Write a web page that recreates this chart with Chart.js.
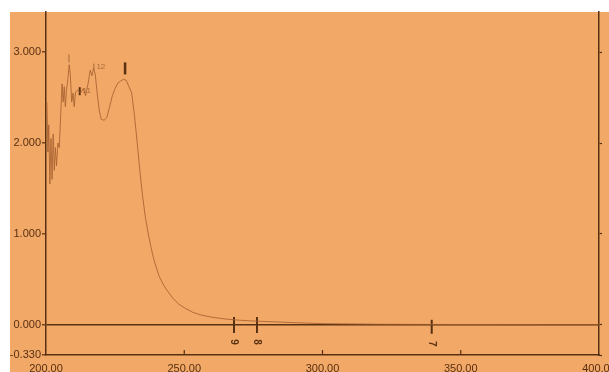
<!DOCTYPE html>
<html lang="en">
<head>
  <meta charset="UTF-8" />
  <title>UV Spectrum</title>
  <script src="https://cdn.jsdelivr.net/npm/chart.js"></script>
  <style>
    body { margin: 0; background: #fff; }
    canvas { display: block; }
  </style>
</head>
<body>
  <canvas id="spectrum" width="609" height="372"></canvas>

  <script>
    // wavelength (nm) and absorbance
    const wavelengths = [200.3, 200.7, 201.0, 201.4, 201.8, 202.2, 202.6, 203.0, 203.4, 203.8,
      204.3, 204.8, 205.3, 205.8, 206.2, 206.6, 207.0, 207.4, 207.9, 208.4,
      208.8, 209.3, 209.8, 210.2, 210.7, 211.5, 212.5, 213.5, 214.3, 215.2,
      216.0, 216.6, 217.2, 217.8, 218.5, 219.3, 220.0, 221.0, 222.0, 223.0,
      224.0, 225.0, 226.0, 227.0, 228.0, 229.0, 230.0, 231.0, 232.0, 233.0,
      234.0, 235.0, 236.0, 237.0, 238.0, 239.0, 240.0, 241.0, 242.5, 244.0,
      246.0, 248.0, 250.0, 253.0, 256.0, 260.0, 265.0, 270.0, 276.0, 282.0,
      290.0, 300.0, 320.0, 350.0, 380.0, 400.0];
    const absorbance = [2.45, 1.90, 2.20, 1.55, 2.05, 1.60, 2.10, 1.70, 1.95, 1.75,
      2.00, 1.95, 2.30, 2.65, 2.45, 2.62, 2.40, 2.58, 2.70, 2.86,
      2.75, 2.45, 2.55, 2.40, 2.56, 2.58, 2.55, 2.60, 2.52, 2.65,
      2.80, 2.74, 2.82, 2.76, 2.55, 2.35, 2.26, 2.25, 2.28, 2.40,
      2.52, 2.60, 2.66, 2.68, 2.70, 2.69, 2.62, 2.55, 2.30, 2.00,
      1.68, 1.40, 1.17, 1.00, 0.85, 0.72, 0.62, 0.53, 0.44, 0.37,
      0.29, 0.23, 0.19, 0.14, 0.11, 0.085, 0.065, 0.052, 0.042, 0.035,
      0.025, 0.015, 0.008, 0.005, 0.004, 0.004];

    // peak pick marks
    const markWl = [208.3, 212.2, 217.3, 228.6, 268.0, 276.3, 339.5];
    const markAbs = [2.93, 2.57, 2.84, 2.82, 0.0, 0.0, -0.02];
    const markLabels = ["", "11", "12", "", "9", "8", "7"];

    const yTicks = [-0.33, 0, 1, 2, 3];
    const xTicks = [200, 250, 300, 350, 400];

    const paper = "rgb(242,168,102)";
    const ink = "rgb(88,48,18)";
    const faint = "rgba(150,90,45,0.8)";
    const trace = "rgba(168,98,48,0.85)";

    const spectrumPoints = wavelengths.map((w, i) => ({ x: w, y: absorbance[i] }));
    const markPoints = markWl.map((w, i) => ({ x: w, y: markAbs[i] }));

    const paperPlugin = {
      id: "paper",
      beforeDraw(chart) {
        const ctx = chart.ctx;
        ctx.save();
        ctx.fillStyle = paper;
        ctx.fillRect(10, 12, 599, 360);
        ctx.restore();
      },
      afterDraw(chart) {
        const ctx = chart.ctx;
        const xs = chart.scales.x;
        const ys = chart.scales.y;
        ctx.save();
        // small inner ticks on the bottom axis
        ctx.strokeStyle = ink;
        ctx.lineWidth = 1.2;
        [250, 300, 350].forEach(v => {
          const px = xs.getPixelForValue(v);
          ctx.beginPath();
          ctx.moveTo(px, ys.bottom);
          ctx.lineTo(px, ys.bottom - 5);
          ctx.stroke();
        });
        // peak labels
        ctx.textAlign = "center";
        ctx.textBaseline = "middle";
        markLabels.forEach((lab, i) => {
          if (!lab) return;
          const px = xs.getPixelForValue(markWl[i]);
          const py = ys.getPixelForValue(markAbs[i]);
          if (markAbs[i] < 1) {
            ctx.fillStyle = ink;
            ctx.font = "bold 10px 'Liberation Sans', Arial, sans-serif";
            ctx.save();
            ctx.translate(px, py + 17);
            ctx.rotate(Math.PI / 2);
            ctx.fillText(lab, 0, 0);
            ctx.restore();
          } else {
            ctx.fillStyle = faint;
            ctx.font = "8px 'Liberation Sans', Arial, sans-serif";
            ctx.fillText(lab, px + 7, py);
          }
        });
        ctx.restore();
      }
    };

    const axisFont = { family: "'Liberation Sans', Arial, sans-serif", size: 11 };

    new Chart(document.getElementById("spectrum").getContext("2d"), {
      type: "line",
      data: {
        datasets: [{
          data: spectrumPoints,
          borderColor: trace,
          borderWidth: 1,
          pointRadius: 0,
          tension: 0,
          yAxisID: "y"
        }, {
          type: "scatter",
          data: markPoints,
          pointStyle: "line",
          rotation: 90,
          pointRadius: [4, 4, 3, 6, 8, 8, 7],
          borderColor: [faint, ink, faint, ink, ink, ink, ink],
          borderWidth: [1, 2, 1, 2.5, 2, 2, 2],
          yAxisID: "y"
        }]
      },
      options: {
        responsive: false,
        animation: false,
        layout: { padding: { top: 12, left: 0, right: 0, bottom: 0 } },
        plugins: { legend: { display: false }, tooltip: { enabled: false } },
        scales: {
          x: {
            type: "linear",
            min: 200,
            max: 400,
            afterBuildTicks: s => { s.ticks = xTicks.map(v => ({ value: v })); },
            afterFit: s => { s.height = 17; s.paddingLeft = 0; s.paddingRight = 0; },
            grid: { drawOnChartArea: false, drawTicks: false },
            border: { display: true, color: ink, width: 1.5 },
            ticks: {
              color: ink,
              font: axisFont,
              padding: 7,
              maxRotation: 0,
              autoSkip: false,
              callback: v => v.toFixed(2)
            }
          },
          y: {
            position: "left",
            min: -0.33,
            max: 3.44,
            afterBuildTicks: s => { s.ticks = yTicks.map(v => ({ value: v })); },
            afterFit: s => { s.width = 46; s.paddingTop = 0; s.paddingBottom = 0; },
            grid: {
              color: c => (c.tick && c.tick.value === 0 ? ink : "transparent"),
              lineWidth: 1.6,
              tickLength: 4,
              tickColor: ink,
              tickWidth: 1.2
            },
            border: { display: true, color: ink, width: 1.5 },
            ticks: {
              color: ink,
              font: axisFont,
              padding: 1,
              autoSkip: false,
              callback: v => v.toFixed(3)
            }
          },
          yR: {
            position: "right",
            min: -0.33,
            max: 3.44,
            afterBuildTicks: s => { s.ticks = yTicks.map(v => ({ value: v })); },
            afterFit: s => { s.width = 3; s.paddingTop = 0; s.paddingBottom = 0; },
            grid: { drawOnChartArea: false, tickLength: 3, tickColor: ink, tickWidth: 1.2 },
            border: { display: true, color: ink, width: 1.5 },
            ticks: { display: false }
          }
        }
      },
      plugins: [paperPlugin]
    });
  </script>
</body>
</html>
